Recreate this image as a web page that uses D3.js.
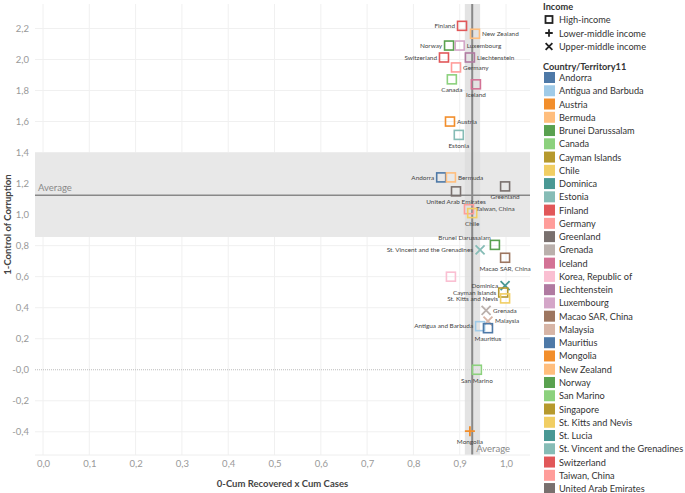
<!DOCTYPE html>
<html><head><meta charset="utf-8">
<script src="https://cdn.jsdelivr.net/npm/d3@7"></script>
<style>body{margin:0;background:#fff}svg{display:block;font-family:Lato,"Noto Sans",sans-serif}</style>
</head><body><svg id="c" width="685" height="493"></svg>
<script>
const countries = ["Andorra","Antigua and Barbuda","Austria","Bermuda","Brunei Darussalam","Canada","Cayman Islands","Chile","Dominica","Estonia","Finland","Germany","Greenland","Grenada","Iceland","Korea, Republic of","Liechtenstein","Luxembourg","Macao SAR, China","Malaysia","Mauritius","Mongolia","New Zealand","Norway","San Marino","Singapore","St. Kitts and Nevis","St. Lucia","St. Vincent and the Grenadines","Switzerland","Taiwan, China","United Arab Emirates"];
const colors = ["#4E79A7","#A0CBE8","#F28E2B","#FFBE7D","#59A14F","#8CD17D","#B6992D","#F1CE63","#499894","#86BCB6","#E15759","#FF9D9A","#79706E","#BAB0AC","#D37295","#FABFD2","#B07AA1","#D4A6C8","#9D7660","#D7B5A6","#4E79A7","#F28E2B","#FFBE7D","#59A14F","#8CD17D","#B6992D","#F1CE63","#499894","#86BCB6","#E15759","#FF9D9A","#79706E"];
const incomeLevels = ["High-income","Lower-middle income","Upper-middle income"];
// points: country, x (0-Cum Recovered x Cum Cases), y (1-Control of Corruption), income, label position
const ptCountry = ["Finland","New Zealand","Norway","Luxembourg","Switzerland","Liechtenstein","Germany","Canada","Iceland","Austria","Estonia","Andorra","Bermuda","United Arab Emirates","Greenland","Taiwan, China","Chile","Brunei Darussalam","St. Vincent and the Grenadines","Macao SAR, China","Korea, Republic of","Dominica","Cayman Islands","St. Kitts and Nevis","Grenada","Malaysia","Antigua and Barbuda","Mauritius","San Marino","Mongolia"];
const ptX = [0.905,0.933,0.877,0.900,0.866,0.922,0.892,0.883,0.935,0.879,0.898,0.860,0.881,0.892,0.998,0.920,0.927,0.976,0.944,0.998,0.881,0.998,0.994,0.998,0.957,0.961,0.944,0.961,0.937,0.922];
const ptY = [2.217,2.166,2.090,2.090,2.013,2.013,1.949,1.872,1.840,1.600,1.514,1.240,1.240,1.150,1.182,1.035,1.010,0.805,0.773,0.722,0.600,0.543,0.498,0.460,0.383,0.313,0.281,0.268,0.000,-0.396];
const ptIncome = ["High-income","High-income","High-income","High-income","High-income","High-income","High-income","High-income","High-income","High-income","High-income","High-income","High-income","High-income","High-income","High-income","High-income","High-income","Upper-middle income","High-income","High-income","Upper-middle income","High-income","High-income","Upper-middle income","Upper-middle income","High-income","High-income","High-income","Lower-middle income"];
const ptLabelPos = ["left","right","left","right","left","right","right","below","below","right","below","left","right","below","below","right","below","aboveleft","left","below","none","left","left","left","right","right","left","below","below","below"];
const xTicks = [0,0.1,0.2,0.3,0.4,0.5,0.6,0.7,0.8,0.9,1.0];
const yTicks = [-0.4,-0.2,0,0.2,0.4,0.6,0.8,1.0,1.2,1.4,1.6,1.8,2.0,2.2];
const avgX = 0.927, avgXBand = [0.911,0.944];
const avgY = 1.125, avgYBand = [0.856,1.400];

const svg = d3.select("#c");
const L=35,R=530,T=4,B=455;
const x = d3.scaleLinear().domain([-0.0173,1.0518]).range([L,R]);
const y = d3.scaleLinear().domain([-0.5495,2.3578]).range([B,T]);
const col = d3.scaleOrdinal().domain(countries).range(colors);
const fmtX = v => d3.format(".1f")(v).replace(".", ",");
const fmtY = v => (v<=0?"-":"") + d3.format(".1f")(Math.abs(v)).replace(".", ",");

// gridlines
const g = svg.append("g");
g.selectAll("line.vx").data(xTicks).join("line").attr("x1",d=>x(d)).attr("x2",d=>x(d)).attr("y1",T).attr("y2",B).attr("stroke","#f0f0f0");
g.selectAll("line.hy").data(yTicks.filter(d=>d!==0)).join("line").attr("class","hy").attr("x1",L).attr("x2",R).attr("y1",d=>y(d)).attr("y2",d=>y(d)).attr("stroke","#f0f0f0");
// horizontal band
g.append("rect").attr("x",L).attr("width",R-L).attr("y",y(avgYBand[1])).attr("height",y(avgYBand[0])-y(avgYBand[1])).attr("fill","#e8e8e8");
// zero line
g.append("line").attr("x1",L).attr("x2",R).attr("y1",y(0)).attr("y2",y(0)).attr("stroke","#bbb").attr("stroke-dasharray","1,1");
// vertical band
g.append("rect").attr("x",x(avgXBand[0])).attr("width",x(avgXBand[1])-x(avgXBand[0])).attr("y",T).attr("height",B-T).attr("fill","#dcdcdc").attr("opacity",0.8);
g.append("line").attr("x1",L).attr("x2",R).attr("y1",y(avgY)).attr("y2",y(avgY)).attr("stroke","#888").attr("stroke-width",1.5);
g.append("line").attr("x1",x(avgX)).attr("x2",x(avgX)).attr("y1",T).attr("y2",B).attr("stroke","#888").attr("stroke-width",2);
g.append("text").attr("x",L+3).attr("y",y(avgY)-4).text("Average").attr("font-size",9.5).attr("fill","#888");
g.append("text").attr("x",x(avgX)+4).attr("y",B-3).text("Average").attr("font-size",9.5).attr("fill","#888");
// axis line bottom
g.append("line").attr("x1",L).attr("x2",R).attr("y1",B).attr("y2",B).attr("stroke","#eee");

// axes
const xa = svg.append("g").attr("transform",`translate(0,${B})`).call(d3.axisBottom(x).tickValues(xTicks).tickFormat(fmtX).tickSize(0).tickPadding(5));
xa.select(".domain").remove();
xa.selectAll("text").attr("fill","#999").attr("font-size",9.5).attr("font-family","Lato");
const ya = svg.append("g").attr("transform",`translate(${L},0)`).call(d3.axisLeft(y).tickValues(yTicks).tickFormat(fmtY).tickSize(0).tickPadding(6));
ya.select(".domain").remove();
ya.selectAll("text").attr("fill","#999").attr("font-size",9.5).attr("font-family","Lato");
svg.append("text").attr("x",(L+R)/2).attr("y",487).attr("text-anchor","middle").attr("font-size",9.5).attr("font-weight","bold").attr("fill","#444").text("0-Cum Recovered x Cum Cases");
svg.append("text").attr("transform",`translate(11,${(T+B)/2-5}) rotate(-90)`).attr("text-anchor","middle").attr("font-size",9.5).attr("font-weight","bold").attr("fill","#444").text("1-Control of Corruption");

// marks
const pts = ptCountry.map((c,i)=>({c, x:ptX[i], y:ptY[i], inc:ptIncome[i], lp:ptLabelPos[i]}));
function drawMark(sel, inc, color){
  if(inc==="High-income"){
    sel.append("rect").attr("x",-4.5).attr("y",-4.5).attr("width",9).attr("height",9).attr("fill","none").attr("stroke",color).attr("stroke-width",1.6);
  } else if(inc==="Lower-middle income"){
    sel.append("path").attr("d","M-5,0H5M0,-5V5").attr("stroke",color).attr("stroke-width",1.8);
  } else {
    sel.append("path").attr("d","M-4.5,-4.5L4.5,4.5M-4.5,4.5L4.5,-4.5").attr("stroke",color).attr("stroke-width",1.8);
  }
}
const mg = svg.append("g");
pts.forEach(p=>{
  const gg = mg.append("g").attr("transform",`translate(${x(p.x)},${y(p.y)})`);
  drawMark(gg,p.inc,col(p.c));
});
// labels
const lg = svg.append("g").attr("font-size",6.4).attr("fill","#444");
pts.forEach(p=>{
  if(p.lp==="none") return;
  const px=x(p.x), py=y(p.y);
  const t = lg.append("text").text(p.c);
  if(p.lp==="left") t.attr("x",px-7).attr("y",py+2.2).attr("text-anchor","end");
  else if(p.lp==="right") t.attr("x",px+7).attr("y",py+2.2);
  else if(p.lp==="below") t.attr("x",px).attr("y",py+13).attr("text-anchor","middle");
  else if(p.lp==="aboveleft") t.attr("x",px-4).attr("y",py-5).attr("text-anchor","end");
});

// legend
const leg = svg.append("g").attr("font-size",9.2).attr("fill","#333");
leg.append("text").attr("x",543).attr("y",10).attr("font-weight","bold").attr("fill","#333").text("Income");
incomeLevels.forEach((inc,i)=>{
  const yy = 19.5 + i*13.5;
  const gg = leg.append("g").attr("transform",`translate(549,${yy})`);
  drawMark(gg,inc,"#222");
  gg.selectAll("rect").attr("x",-3.5).attr("y",-3.5).attr("width",7).attr("height",7).attr("stroke-width",1.8);
  gg.selectAll("path").attr("transform","scale(0.75)").attr("stroke-width",2.4);
  leg.append("text").attr("x",559).attr("y",yy+3.5).text(inc);
});
leg.append("text").attr("x",543).attr("y",70).attr("font-weight","bold").text("Country/Territory11");
countries.forEach((c,i)=>{
  const yy = 77.5 + i*13.26;
  leg.append("rect").attr("x",544).attr("y",yy-5.5).attr("width",11).attr("height",11).attr("fill",col(c));
  leg.append("text").attr("x",559).attr("y",yy+3.5).text(c);
});
</script></body></html>
